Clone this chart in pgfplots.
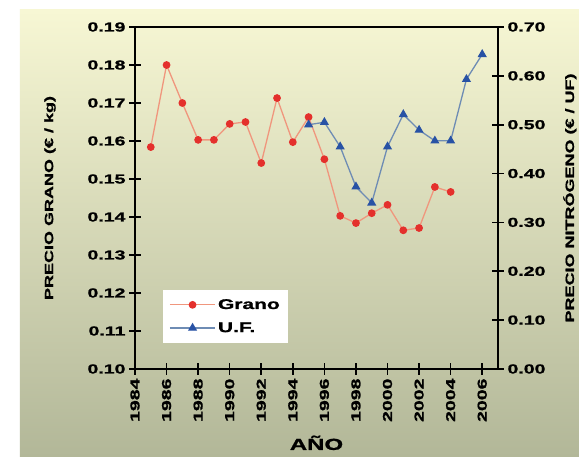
\documentclass[border=0pt]{standalone}
\usepackage{fontspec}
\setmainfont[FakeStretch=1.5, FakeBold=1.2]{Liberation Sans}
\usepackage{pgfplots}
\pgfplotsset{compat=1.18}

\definecolor{granoline}{RGB}{240,150,125}
\definecolor{granomark}{RGB}{228,48,44}
\definecolor{ufline}{RGB}{110,140,180}
\definecolor{ufmark}{RGB}{40,82,165}
\definecolor{bgtop}{RGB}{247,247,212}
\definecolor{bgbot}{RGB}{178,183,152}

\begin{document}
\begin{tikzpicture}
  \useasboundingbox (-135pt,-88pt) rectangle (444pt,369pt);
  % fondo: blanco y degradado
  \fill[white] (-135pt,-88pt) rectangle (444pt,369pt);
  \shade[top color=bgtop, bottom color=bgbot] (-115pt,-88pt) rectangle (444pt,359pt);

  \begin{axis}[
      at={(0,0)}, anchor=south west,
      scale only axis,
      width=363pt, height=342pt,
      xmin=1984, xmax=2007,
      ymin=0.10, ymax=0.19,
      xtick={1984,1986,1988,1990,1992,1994,1996,1998,2000,2002,2004,2006},
      ytick={0.10,0.11,0.12,0.13,0.14,0.15,0.16,0.17,0.18,0.19},
      xtick pos=bottom, ytick pos=left,
      tick align=center,
      major tick length=12pt,
      axis line style={line width=1.6pt},
      every tick/.style={black, line width=1.6pt},
      font=\bfseries\fontsize{13}{15}\selectfont,
      /pgf/number format/assume math mode=true,
      x tick label style={/pgf/number format/1000 sep={}, rotate=90, anchor=east},
      y tick label style={/pgf/number format/fixed, /pgf/number format/fixed zerofill,
                          /pgf/number format/precision=2},
      xlabel={AÑO},
      xlabel style={at={(axis description cs:0.5,-0.216)}, anchor=center,
                    font=\bfseries\fontsize{16}{18}\selectfont},
      ylabel={PRECIO GRANO (€ / kg)},
      ylabel style={at={(axis description cs:-0.234,0.5)}, anchor=center,
                    font=\bfseries\fontsize{12}{14}\selectfont},
      legend style={at={(axis description cs:0.077,0.231)}, anchor=north west,
                    fill=white, draw=none, font=\bfseries\fontsize{14}{16}\selectfont,
                    row sep=8pt, inner xsep=6pt, inner ysep=7pt},
      legend cell align=left,
      legend image code/.code={
        \draw[#1] (0cm,0cm) -- (1.6cm,0cm);
        \draw[#1, only marks] plot coordinates {(0.8cm,0cm)};
      },
    ]
    \addlegendimage{color=granoline, line width=1.3pt, mark=*, mark size=3.2pt,
                    mark options={draw=granomark, fill=granomark}}
    \addlegendentry{Grano}
    \addlegendimage{color=ufline, line width=1.3pt, mark=triangle*, mark size=4pt,
                    mark options={draw=ufmark, fill=ufmark}}
    \addlegendentry{U.F.}

    \addplot[color=granoline, line width=1.3pt, mark=*, mark size=3.2pt,
             mark options={draw=granomark, fill=granomark}, forget plot]
      coordinates {
        (1985,0.1584) (1986,0.1800) (1987,0.1700) (1988,0.1603) (1989,0.1603)
        (1990,0.1645) (1991,0.1650) (1992,0.1542) (1993,0.1713) (1994,0.1597)
        (1995,0.1663) (1996,0.1552) (1997,0.1403) (1998,0.1384) (1999,0.1410)
        (2000,0.1432) (2001,0.1365) (2002,0.1371) (2003,0.1479) (2004,0.1466)
      };
  \end{axis}

  \begin{axis}[
      at={(0,0)}, anchor=south west,
      scale only axis,
      width=363pt, height=342pt,
      xmin=1984, xmax=2007,
      ymin=0, ymax=0.70,
      ytick={0,0.1,0.2,0.3,0.4,0.5,0.6,0.7},
      axis x line=none,
      axis y line*=right,
      tick align=center,
      major tick length=12pt,
      axis line style={line width=1.6pt, -},
      every tick/.style={black, line width=1.6pt},
      font=\bfseries\fontsize{13}{15}\selectfont,
      /pgf/number format/assume math mode=true,
      y tick label style={/pgf/number format/fixed, /pgf/number format/fixed zerofill,
                          /pgf/number format/precision=2},
      ylabel={PRECIO NITRÓGENO (€ / UF)},
      ylabel style={at={(axis description cs:1.198,0.5)}, anchor=center, rotate=0,
                    font=\bfseries\fontsize{12}{14}\selectfont},
    ]
    \addplot[color=ufline, line width=1.3pt, mark=triangle*, mark size=4pt,
             mark options={draw=ufmark, fill=ufmark}]
      coordinates {
        (1995,0.500) (1996,0.505) (1997,0.455) (1998,0.373) (1999,0.340)
        (2000,0.455) (2001,0.521) (2002,0.489) (2003,0.467) (2004,0.467)
        (2005,0.593) (2006,0.644)
      };
  \end{axis}
\end{tikzpicture}
\end{document}
